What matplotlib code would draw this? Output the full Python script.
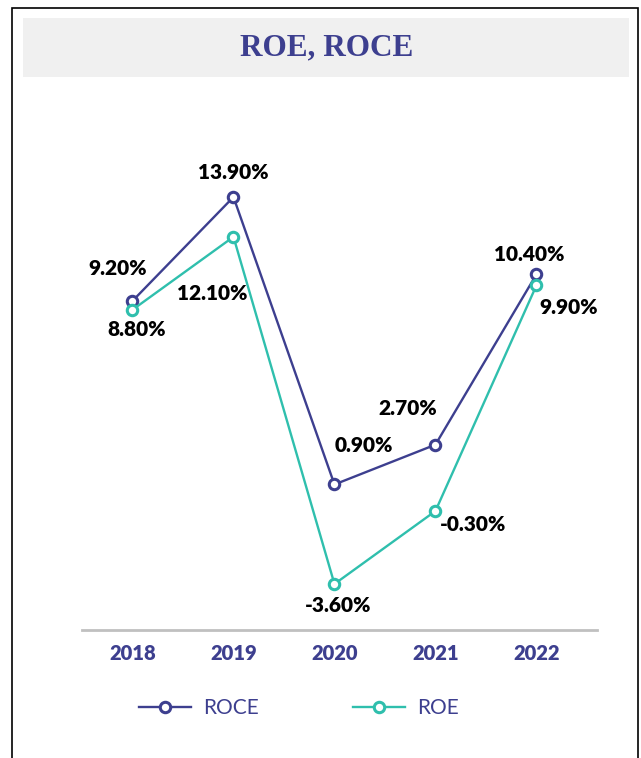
import matplotlib.pyplot as plt
from matplotlib.patches import Rectangle

years = ['2018', '2019', '2020', '2021', '2022']
roce = [9.2, 13.9, 0.9, 2.7, 10.4]
roe = [8.8, 12.1, -3.6, -0.3, 9.9]

# label offsets in pixels (dx, dy)
roce_off = [(-15, 32), (0, 25), (29, 39), (-28, 36), (-7, 20)]
roe_off = [(4, -20), (-21, -57), (4, -21), (38, -13), (32, -22)]

navy = '#3d3f8f'
teal = '#2fbfad'

fig = plt.figure(figsize=(6.41, 7.58), dpi=100)
W, H = 641, 758

# outer frame and title bar
fig.patches.append(Rectangle((12 / W, -0.01), (638 - 12) / W, (758 - 8) / H + 0.01,
                             transform=fig.transFigure, fill=False, ec='black', lw=1.2))
fig.patches.append(Rectangle((23 / W, 1 - 77 / H), (629 - 23) / W, 59 / H,
                             transform=fig.transFigure, fc='#f0f0f0', ec='none'))
fig.text(327 / W, 1 - 48 / H, 'ROE, ROCE', ha='center', va='center', color=navy,
         fontsize=22.5, fontweight='bold', family='Liberation Serif')

ax = fig.add_axes([82 / W, 1 - 630 / H, (597 - 82) / W, (630 - 130) / H])
x = range(len(years))
ax.plot(x, roce, color=navy, lw=1.7, marker='o', ms=7.5, mfc='white', mec=navy, mew=2.2, label='ROCE', zorder=3)
ax.plot(x, roe, color=teal, lw=1.7, marker='o', ms=7.5, mfc='white', mec=teal, mew=2.2, label='ROE', zorder=3)

for i in x:
    ax.annotate(f'{roce[i]:.2f}%', (i, roce[i]), xytext=roce_off[i], textcoords='offset pixels',
                ha='center', va='center', fontsize=15, fontweight='heavy', family='Lato')
    ax.annotate(f'{roe[i]:.2f}%', (i, roe[i]), xytext=roe_off[i], textcoords='offset pixels',
                ha='center', va='center', fontsize=15, fontweight='heavy', family='Lato')

ax.set_xlim(-0.5, 4.6)
ax.set_ylim(-5.68, 16.93)
ax.set_xticks(list(x))
ax.set_xticklabels(years, fontsize=14.5, fontweight='heavy', color=navy, family='Lato')
ax.set_yticks([])
for s in ['top', 'right', 'left']:
    ax.spines[s].set_visible(False)
ax.spines['bottom'].set_color('#c0c0c0')
ax.spines['bottom'].set_linewidth(2)
ax.tick_params(axis='x', length=0, pad=10)

leg = fig.legend(loc='center', bbox_to_anchor=(299 / W, 1 - 708 / H), ncol=2, frameon=False,
                 columnspacing=4.5, handlelength=2.5, handletextpad=0.6,
                 prop={'family': 'Lato', 'size': 15})
for t in leg.get_texts():
    t.set_color(navy)

fig.savefig('out.png', dpi=100)
